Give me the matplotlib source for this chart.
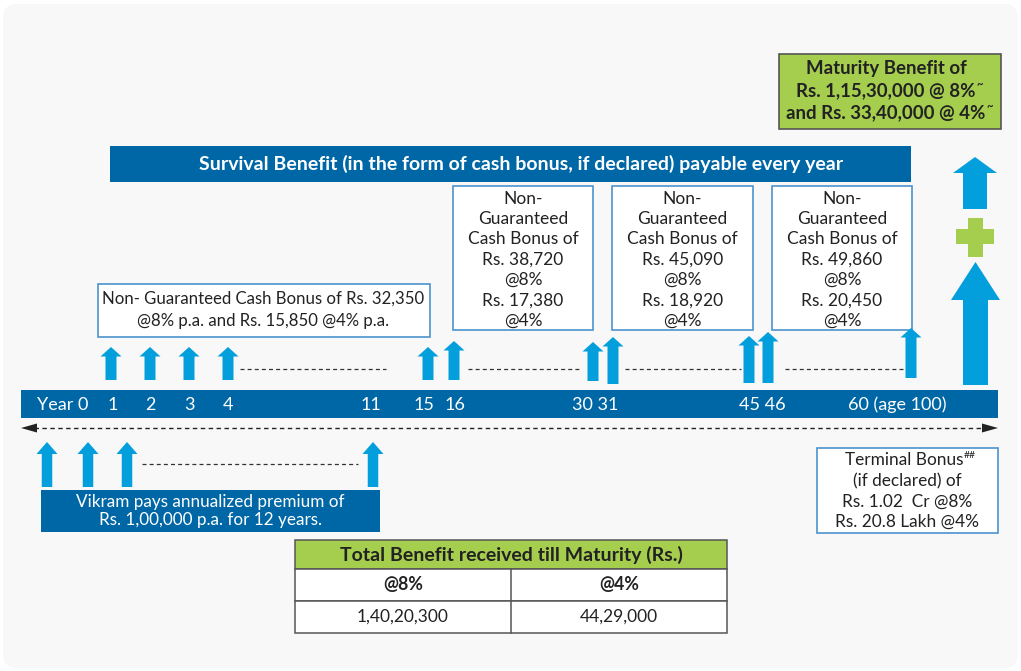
import matplotlib
matplotlib.use("Agg")
import matplotlib.pyplot as plt
from matplotlib.patches import Polygon, Rectangle, FancyBboxPatch

# ---------------- data ----------------
timeline_labels = ["Year 0", "1", "2", "3", "4", "11", "15", "16", "30 31", "45 46", "60 (age 100)"]
benefit_years = [1, 2, 3, 4, 15, 16, 30, 31, 45, 46, 60]
premium_years = [0, 1, 2, 11]
survival_title = "Survival Benefit (in the form of cash bonus, if declared) payable every year"
early_bonus_lines = ["Non- Guaranteed Cash Bonus of Rs. 32,350", "@8% p.a. and Rs. 15,850 @4% p.a."]
bonus_years = [30, 45, 60]
bonus_8pct = ["38,720", "45,090", "49,860"]
bonus_4pct = ["17,380", "18,920", "20,450"]
maturity_lines = ["Maturity Benefit of", "Rs. 1,15,30,000 @ 8%", "and Rs. 33,40,000 @ 4%"]
terminal_lines = ["Terminal Bonus", "(if declared) of", "Rs. 1.02  Cr @8%", "Rs. 20.8 Lakh @4%"]
premium_lines = ["Vikram pays annualized premium of", "Rs. 1,00,000 p.a. for 12 years."]
table_title = "Total Benefit received till Maturity (Rs.)"
table_cols = ["@8%", "@4%"]
table_vals = ["1,40,20,300", "44,29,000"]

# ---------------- layout (pixels) ----------------
label_x = [63, 113, 150, 189, 228, 371, 424, 455, 595, 762, 897]
benefit_x = {1: 111, 2: 150, 3: 189, 4: 228, 15: 428, 16: 454, 30: 593, 31: 613, 45: 749, 46: 768, 60: 911}
benefit_top = {1: 347, 2: 347, 3: 347, 4: 347, 15: 347, 16: 341, 30: 342, 31: 337, 45: 336, 46: 332, 60: 328}
benefit_bot = {1: 380, 2: 380, 3: 380, 4: 380, 15: 380, 16: 380, 30: 381, 31: 384, 45: 383, 46: 383, 60: 378}
premium_x = {0: 47, 1: 88, 2: 127, 11: 373}
bonus_box_x = {30: (453, 593), 45: (612, 753), 60: (772, 912)}

DARK = "#0067a7"
LIGHT = "#039fdc"
GREEN = "#a5cd4e"
BORDER = "#4c93cc"
TXT = "#222222"
FONT = ["Lato", "DejaVu Sans"]
BODY = 12.5

fig = plt.figure(figsize=(10.21, 6.71), dpi=100)
fig.patch.set_facecolor("white")
ax = fig.add_axes([0, 0, 1, 1])
ax.set_xlim(0, 1021)
ax.set_ylim(671, 0)
ax.axis("off")

ax.add_patch(FancyBboxPatch((3, 4), 1015, 664, boxstyle="round,pad=0,rounding_size=14",
                            fc="#f8f8f8", ec="none", zorder=0))


def up_arrow(xc, ybot, ytop, shaft, head, head_h, color=LIGHT):
    pts = [(xc - shaft / 2, ybot), (xc - shaft / 2, ytop + head_h), (xc - head / 2, ytop + head_h),
           (xc, ytop), (xc + head / 2, ytop + head_h), (xc + shaft / 2, ytop + head_h),
           (xc + shaft / 2, ybot)]
    ax.add_patch(Polygon(pts, closed=True, fc=color, ec="none", zorder=3))


def txt(x, y, s, size=BODY, color=TXT, weight="normal", ha="center", **kw):
    return ax.text(x, y, s, fontsize=size, color=color, weight=weight, ha=ha, va="center",
                   family=FONT, zorder=5, **kw)


def superscript(t, s, size, dx=0.5, dy=3.5, weight="normal"):
    fig.canvas.draw()
    bb = t.get_window_extent(fig.canvas.get_renderer())
    xr = ax.transData.inverted().transform((bb.x1, bb.y1))
    ax.text(xr[0] + dx, xr[1] + dy, s, fontsize=size, color=TXT, weight=weight, ha="left",
            va="center", family=FONT, zorder=5)


# timeline bar
ax.add_patch(Rectangle((21, 390), 977, 28, fc=DARK, ec="none", zorder=2))
for lab, x in zip(timeline_labels, label_x):
    txt(x, 405, lab, size=13, color="white")

# dashed double-headed line
ax.plot([34, 984], [428, 428], ls=(0, (3.2, 2.5)), color="#222222", lw=1.0, zorder=2)
ax.add_patch(Polygon([(21, 428), (37, 423.5), (37, 432.5)], fc="#222222", ec="none", zorder=3))
ax.add_patch(Polygon([(998, 428), (982, 423.5), (982, 432.5)], fc="#222222", ec="none", zorder=3))

# benefit arrows
for yr in benefit_years:
    up_arrow(benefit_x[yr], benefit_bot[yr], benefit_top[yr], 11, 21, 9.5)
for x0, x1 in [(240, 386), (468, 581), (625, 741), (785, 903)]:
    ax.plot([x0, x1], [369, 369], ls=(0, (3.2, 2.5)), color="#333333", lw=0.9, zorder=2)

# premium arrows
for yr in premium_years:
    up_arrow(premium_x[yr], 487, 442, 10.5, 21, 12)
ax.plot([142, 358], [464, 464], ls=(0, (3.2, 2.5)), color="#333333", lw=0.9, zorder=2)

# premium box
ax.add_patch(Rectangle((41, 490), 339, 42, fc=DARK, ec="none", zorder=2))
txt(210, 502, premium_lines[0], size=12.3, color="white")
txt(210, 520, premium_lines[1], size=12.3, color="white")

# survival banner
ax.add_patch(Rectangle((110, 146), 801, 36, fc=DARK, ec="none", zorder=2))
txt(521, 164, survival_title, size=14, color="white", weight="bold")

# early bonus box
ax.add_patch(Rectangle((98, 284), 332, 53, fc="white", ec=BORDER, lw=1.2, zorder=2))
txt(263, 299, early_bonus_lines[0], size=12.1)
txt(263, 321, early_bonus_lines[1], size=12.1)

# three bonus boxes
for yr, b8, b4 in zip(bonus_years, bonus_8pct, bonus_4pct):
    x0, x1 = bonus_box_x[yr]
    ax.add_patch(Rectangle((x0, 186), x1 - x0, 144, fc="white", ec=BORDER, lw=1.2, zorder=2))
    lines = ["Non-", "Guaranteed", "Cash Bonus of", "Rs. " + b8, "@8%", "Rs. " + b4, "@4%"]
    for i, s in enumerate(lines):
        txt((x0 + x1) / 2, 198.5 + i * 20.4, s)

# maturity box
ax.add_patch(Rectangle((779, 54), 222, 75, fc=GREEN, ec="#555555", lw=1.2, zorder=2))
mts = [txt(886, y, s, size=13.4, weight="bold") for s, y in zip(maturity_lines, [68.5, 90.5, 113])]
for t in mts[1:]:
    superscript(t, "~", 8, dx=0.5, dy=2.5, weight="bold")

# right big arrows + plus
up_arrow(975, 209, 157, 24, 44, 16)
ax.add_patch(Rectangle((956, 229), 38, 15, fc=GREEN, ec="none", zorder=3))
ax.add_patch(Rectangle((968, 218), 15, 39, fc=GREEN, ec="none", zorder=3))
up_arrow(975.5, 385, 262, 25, 49, 38)

# terminal bonus box
ax.add_patch(Rectangle((817, 448), 181, 85, fc="white", ec=BORDER, lw=1.2, zorder=2))
tys = [460, 481, 502, 522]
tts = []
for s, y in zip(terminal_lines, tys):
    tts.append(txt(907 if s != terminal_lines[0] else 904, y, s, size=12.4))
superscript(tts[0], "##", 7.5, dx=0.5, dy=4)

# table
ax.add_patch(Rectangle((295, 540), 432, 29, fc=GREEN, ec="#555555", lw=1.1, zorder=2))
ax.add_patch(Rectangle((295, 569), 432, 32, fc="white", ec="#555555", lw=1.1, zorder=2))
ax.add_patch(Rectangle((295, 601), 432, 32, fc="white", ec="#555555", lw=1.1, zorder=2))
ax.plot([511, 511], [569, 633], color="#555555", lw=1.1, zorder=3)
txt(511, 555, table_title, size=14, weight="bold")
for cx, c, v in zip([403, 619], table_cols, table_vals):
    txt(cx, 585, c, size=12.8, weight="bold")
    txt(cx, 617, v, size=12.5)

fig.savefig("out.png", dpi=100, facecolor="white")
